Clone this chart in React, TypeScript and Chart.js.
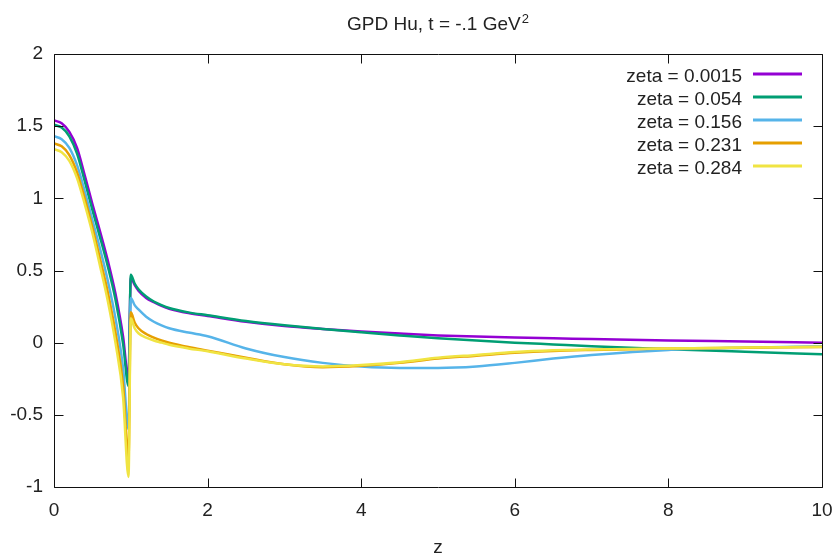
import React, { useEffect, useRef } from "react";
import { Chart, registerables } from "chart.js";

Chart.register(...registerables);

const zValues = [0, 0.1, 0.2, 0.3, 0.4, 0.5, 0.6, 0.7, 0.8, 0.9, 0.97, 1.0, 1.05, 1.1, 1.2, 1.3, 1.4, 1.5, 1.75, 2, 2.5, 3, 3.5, 4, 4.5, 5, 5.5, 6, 6.5, 7, 8, 9, 10];

const zeta0015 = [1.54, 1.52, 1.46, 1.35, 1.16, 0.96, 0.77, 0.57, 0.34, 0.04, -0.25, 0.45, 0.40, 0.36, 0.31, 0.28, 0.255, 0.235, 0.205, 0.185, 0.145, 0.115, 0.095, 0.078, 0.063, 0.05, 0.042, 0.035, 0.03, 0.025, 0.015, 0.008, 0.0];
const zeta054 = [1.51, 1.49, 1.43, 1.31, 1.12, 0.92, 0.73, 0.53, 0.30, -0.01, -0.30, 0.47, 0.41, 0.37, 0.32, 0.285, 0.26, 0.24, 0.21, 0.19, 0.15, 0.12, 0.095, 0.072, 0.05, 0.03, 0.015, 0.0, -0.012, -0.024, -0.045, -0.063, -0.08];
const zeta156 = [1.43, 1.41, 1.35, 1.23, 1.05, 0.85, 0.65, 0.43, 0.17, -0.18, -0.60, 0.31, 0.26, 0.23, 0.18, 0.145, 0.12, 0.10, 0.07, 0.045, -0.04, -0.10, -0.14, -0.165, -0.175, -0.175, -0.165, -0.14, -0.11, -0.085, -0.05, -0.035, -0.025];
const zeta231 = [1.38, 1.36, 1.30, 1.18, 1.00, 0.80, 0.58, 0.35, 0.07, -0.30, -0.80, 0.21, 0.14, 0.10, 0.06, 0.035, 0.015, 0.0, -0.03, -0.055, -0.105, -0.15, -0.17, -0.16, -0.14, -0.11, -0.09, -0.07, -0.057, -0.05, -0.04, -0.035, -0.03];
const zeta284 = [1.34, 1.32, 1.26, 1.14, 0.96, 0.76, 0.53, 0.29, 0.0, -0.38, -0.93, 0.17, 0.10, 0.065, 0.035, 0.015, 0.0, -0.015, -0.04, -0.06, -0.11, -0.15, -0.165, -0.155, -0.135, -0.105, -0.085, -0.065, -0.053, -0.047, -0.04, -0.034, -0.028];

const seriesLabels = ["zeta = 0.0015", "zeta = 0.054", "zeta = 0.156", "zeta = 0.231", "zeta = 0.284"];
const seriesValues = [zeta0015, zeta054, zeta156, zeta231, zeta284];
const seriesColors = ["#9400d3", "#009e73", "#56b4e9", "#e69f00", "#f0e442"];

const xTicks = [0, 2, 4, 6, 8, 10];
const yTicks = [-1, -0.5, 0, 0.5, 1, 1.5, 2];
const titleText = "GPD Hu, t = -.1 GeV";
const titleSup = "2";
const xTitle = "z";

const FONT = '"Liberation Sans", Arial, sans-serif';

const gnuPlugin = {
  id: "gnuStyle",
  afterDatasetsDraw(chart: any) {
    const { ctx, chartArea: a, scales } = chart;
    const x = scales.x;
    const y = scales.y;
    ctx.save();
    ctx.strokeStyle = "#111";
    ctx.lineWidth = 1;
    ctx.beginPath();
    const L = Math.round(a.left) + 0.5;
    const R = Math.round(a.right) + 0.5;
    const T = Math.round(a.top) + 0.5;
    const B = Math.round(a.bottom) + 0.5;
    ctx.rect(L, T, R - L, B - T);
    const tl = 9;
    xTicks.forEach((v) => {
      const px = Math.round(x.getPixelForValue(v)) + 0.5;
      ctx.moveTo(px, B);
      ctx.lineTo(px, B - tl);
      ctx.moveTo(px, T);
      ctx.lineTo(px, T + tl);
    });
    yTicks.forEach((v) => {
      const py = Math.round(y.getPixelForValue(v)) + 0.5;
      ctx.moveTo(L, py);
      ctx.lineTo(L + tl, py);
      ctx.moveTo(R, py);
      ctx.lineTo(R - tl, py);
    });
    ctx.stroke();
    ctx.restore();
  },
  afterDraw(chart: any) {
    const { ctx, chartArea: a } = chart;
    ctx.save();
    ctx.fillStyle = "#222";
    ctx.font = `19px ${FONT}`;
    const wMain = ctx.measureText(titleText).width;
    ctx.font = `13px ${FONT}`;
    const wSup = ctx.measureText(titleSup).width;
    const cx = (a.left + a.right) / 2;
    const start = cx - (wMain + wSup + 1) / 2;
    ctx.textBaseline = "alphabetic";
    ctx.textAlign = "left";
    ctx.font = `19px ${FONT}`;
    ctx.fillText(titleText, start, 30);
    ctx.font = `13px ${FONT}`;
    ctx.fillText(titleSup, start + wMain + 1, 23);
    ctx.font = `19px ${FONT}`;
    ctx.textAlign = "center";
    ctx.fillText(xTitle, cx, 553);
    const ds = chart.data.datasets;
    const textRight = a.right - 80;
    const lineStart = a.right - 69;
    const lineEnd = a.right - 20;
    ds.forEach((d: any, i: number) => {
      const ly = a.top + 20 + i * 23;
      ctx.font = `19px ${FONT}`;
      ctx.textAlign = "right";
      ctx.textBaseline = "alphabetic";
      ctx.fillStyle = "#222";
      ctx.fillText(d.label, textRight, ly + 8);
      ctx.strokeStyle = d.borderColor;
      ctx.lineWidth = 3;
      ctx.beginPath();
      ctx.moveTo(lineStart, ly);
      ctx.lineTo(lineEnd, ly);
      ctx.stroke();
    });
    ctx.restore();
  },
};

export default function App() {
  const canvasRef = useRef<HTMLCanvasElement | null>(null);

  useEffect(() => {
    document.body.style.margin = "0";
    const canvas = canvasRef.current;
    if (!canvas) return;
    const datasets = seriesValues.map((vals, i) => ({
      label: seriesLabels[i],
      data: zValues.map((z, k) => ({ x: z, y: vals[k] })),
      borderColor: seriesColors[i],
      backgroundColor: seriesColors[i],
      borderWidth: 2.5,
      pointRadius: 0,
      fill: false,
      cubicInterpolationMode: "monotone" as const,
      order: seriesValues.length - i,
    }));
    const chart = new Chart(canvas, {
      type: "line",
      data: { datasets },
      options: {
        responsive: false,
        animation: false,
        devicePixelRatio: 1,
        layout: { padding: { top: 54, right: 12, left: 0, bottom: 0 } },
        plugins: {
          legend: { display: false },
          title: { display: false },
          tooltip: { enabled: false },
        },
        scales: {
          x: {
            type: "linear",
            min: 0,
            max: 10,
            afterFit: (s: any) => {
              s.height = 68;
              s.paddingLeft = 0;
              s.paddingRight = 0;
            },
            afterBuildTicks: (s: any) => {
              s.ticks = xTicks.map((v) => ({ value: v }));
            },
            grid: { display: false, drawTicks: false },
            border: { display: false },
            ticks: {
              padding: 12,
              color: "#222",
              font: { family: FONT, size: 19 },
              maxRotation: 0,
              callback: (v: any) => String(v),
            },
          },
          y: {
            type: "linear",
            min: -1,
            max: 2,
            afterFit: (s: any) => {
              s.width = 54;
              s.paddingTop = 0;
              s.paddingBottom = 0;
            },
            afterBuildTicks: (s: any) => {
              s.ticks = yTicks.map((v) => ({ value: v }));
            },
            grid: { display: false, drawTicks: false },
            border: { display: false },
            ticks: {
              padding: 11,
              color: "#222",
              font: { family: FONT, size: 19 },
              callback: (v: any) => String(v),
            },
          },
        },
      },
      plugins: [gnuPlugin],
    });
    return () => chart.destroy();
  }, []);

  return (
    <div style={{ width: 834, height: 555, background: "#fff" }}>
      <canvas ref={canvasRef} width={834} height={555} style={{ display: "block" }} />
    </div>
  );
}
